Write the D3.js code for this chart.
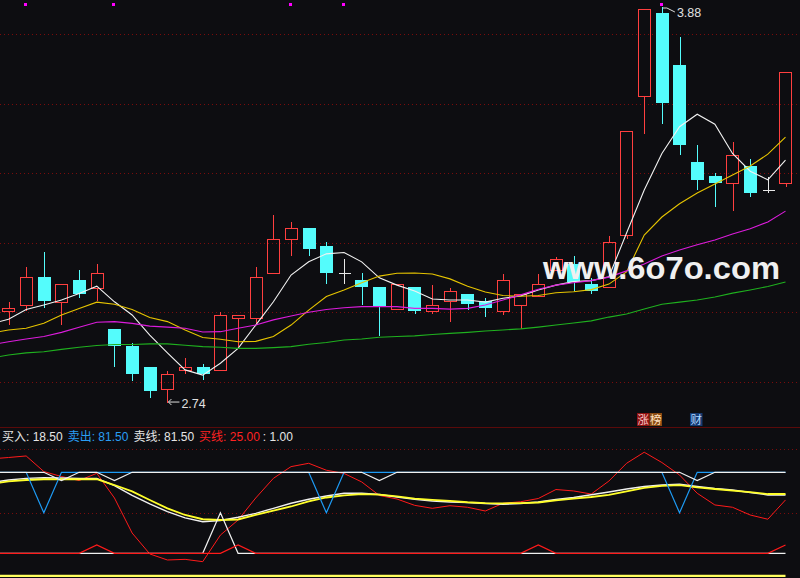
<!DOCTYPE html>
<html><head><meta charset="utf-8">
<script src="https://cdn.jsdelivr.net/npm/d3@7"></script>
<style>html,body{margin:0;padding:0;background:#0d0d11;} svg{display:block;}</style>
</head><body><svg id="c" width="800" height="578"></svg>
<script>
// ---------- main panel data (bars 1..45) ----------
const open  = [3.003,3.020,3.101,3.030,3.093,3.071,2.952,2.903,2.842,2.780,2.833,2.842,2.833,2.982,2.982,3.112,3.210,3.242,3.191,3.113,3.093,3.073,3.010,3.073,3.004,3.031,3.052,3.033,3.003,3.020,3.048,3.121,3.139,3.080,3.072,3.221,3.622,3.862,3.712,3.432,3.392,3.371,3.421,3.351,3.371];
const close = [3.011,3.101,3.032,3.081,3.052,3.113,2.903,2.823,2.773,2.821,2.841,2.823,2.991,2.991,3.101,3.210,3.242,3.183,3.114,3.113,3.073,3.015,3.081,3.004,3.020,3.061,3.023,3.013,3.093,3.052,3.081,3.152,3.087,3.062,3.201,3.521,3.872,3.603,3.481,3.381,3.373,3.452,3.344,3.351,3.691];
const high  = [3.029,3.129,3.172,3.081,3.122,3.139,2.952,2.911,2.842,2.831,2.867,2.851,3.001,2.991,3.130,3.280,3.260,3.242,3.202,3.153,3.113,3.073,3.081,3.073,3.078,3.069,3.052,3.041,3.111,3.052,3.111,3.160,3.162,3.098,3.219,3.521,3.872,3.880,3.792,3.481,3.401,3.490,3.441,3.390,3.691];
const low   = [2.963,3.004,3.013,2.963,3.042,3.032,2.843,2.803,2.754,2.740,2.823,2.806,2.833,2.896,2.963,3.112,3.163,3.163,3.082,3.082,3.022,2.932,3.010,2.994,2.994,2.973,3.006,2.985,2.993,2.952,3.048,3.121,3.062,3.052,3.072,3.210,3.514,3.542,3.453,3.352,3.304,3.292,3.333,3.344,3.361];
// moving averages, index 0 = bar before the visible window
const ma5  = [2.966,2.980,3.008,3.021,3.035,3.054,3.075,3.030,2.992,2.934,2.883,2.834,2.819,2.853,2.896,2.963,3.030,3.107,3.145,3.168,3.172,3.145,3.099,3.078,3.061,3.038,3.035,3.035,3.029,3.040,3.047,3.064,3.078,3.088,3.091,3.102,3.228,3.352,3.457,3.534,3.570,3.541,3.457,3.406,3.381,3.438];
const ma10 = [2.940,2.949,2.954,2.968,2.992,3.011,3.029,3.023,3.008,2.985,2.973,2.949,2.927,2.922,2.915,2.916,2.930,2.963,3.006,3.045,3.064,3.085,3.104,3.112,3.113,3.110,3.096,3.075,3.058,3.048,3.046,3.048,3.056,3.059,3.065,3.081,3.116,3.222,3.274,3.312,3.343,3.369,3.395,3.421,3.455,3.504];
const ma20 = [2.906,2.915,2.923,2.930,2.942,2.957,2.971,2.973,2.968,2.960,2.957,2.954,2.943,2.944,2.954,2.963,2.978,2.989,3.000,3.008,3.013,3.016,3.016,3.016,3.011,3.011,3.009,3.011,3.021,3.035,3.050,3.066,3.078,3.085,3.091,3.101,3.119,3.139,3.162,3.179,3.194,3.208,3.225,3.240,3.260,3.291];
const ma60 = [2.868,2.877,2.883,2.886,2.893,2.899,2.904,2.907,2.907,2.909,2.909,2.905,2.901,2.899,2.896,2.896,2.898,2.901,2.908,2.913,2.920,2.923,2.928,2.930,2.932,2.936,2.939,2.942,2.946,2.949,2.952,2.957,2.963,2.969,2.975,2.986,2.995,3.009,3.023,3.029,3.035,3.044,3.055,3.064,3.074,3.087];
const priceGrid = [2.8,3.0,3.2,3.4,3.6,3.8];
const markerBars = [2,7,17,20,38];

// ---------- indicator panel data (index 0..45) ----------
const osc    = [91.9,93.0,94.2,82.1,78.2,75.1,80.7,61.5,34.3,18.0,13.3,13.8,12.0,32.7,44.4,61.5,76.8,85.9,88.5,83.1,80.6,74.0,63.5,60.7,55.8,53.5,55.5,54.3,51.4,57.4,58.6,61.1,68.1,67.0,64.6,74.7,88.5,97.1,89.1,79.4,65.2,56.1,54.3,48.3,45.0,60.0];
const smoothW = [73.6,75.5,76.8,77.3,77.1,76.8,76.8,71.1,63.5,56.9,50.9,46.0,43.1,44.0,46.5,49.6,53.5,57.4,60.5,63.1,65.2,65.2,64.2,62.3,60.4,59.2,58.4,57.9,57.2,56.6,57.2,58.4,60.4,61.9,64.0,66.2,68.5,70.5,71.6,72.3,70.5,68.9,67.7,65.8,63.9,63.9];
const smoothY = [72.4,74.4,75.5,76.1,76.1,76.1,76.1,71.6,66.6,60.0,53.5,48.3,45.0,44.4,44.8,48.3,51.6,54.9,58.8,61.9,63.6,64.5,64.2,62.7,61.1,60.0,59.2,58.2,57.6,57.4,57.6,58.0,59.6,61.1,62.3,63.9,66.6,69.3,70.9,71.5,69.8,68.5,67.2,66.0,64.6,64.6];
const buyIn   = [18.5,18.5,18.5,18.5,18.5,18.5,18.5,18.5,18.5,18.5,18.5,18.5,18.5,50,18.5,18.5,18.5,18.5,18.5,18.5,18.5,18.5,18.5,18.5,18.5,18.5,18.5,18.5,18.5,18.5,18.5,18.5,18.5,18.5,18.5,18.5,18.5,18.5,18.5,18.5,18.5,18.5,18.5,18.5,18.5,18.5];
const sellOut = [81.5,81.5,81.5,50,81.5,81.5,81.5,81.5,81.5,81.5,81.5,81.5,81.5,81.5,81.5,81.5,81.5,81.5,81.5,50,81.5,81.5,81.5,81.5,81.5,81.5,81.5,81.5,81.5,81.5,81.5,81.5,81.5,81.5,81.5,81.5,81.5,81.5,81.5,50,81.5,81.5,81.5,81.5,81.5,81.5];
const sellLine= [81.5,81.5,81.5,81.5,75,81.5,81.5,75,81.5,81.5,81.5,81.5,81.5,81.5,81.5,81.5,81.5,81.5,81.5,81.5,81.5,81.5,75,81.5,81.5,81.5,81.5,81.5,81.5,81.5,81.5,81.5,81.5,81.5,81.5,81.5,81.5,81.5,81.5,81.5,75,81.5,81.5,81.5,81.5,81.5];
const buyLine = [18.5,18.5,18.5,18.5,18.5,18.5,25,18.5,18.5,18.5,18.5,18.5,18.5,18.5,25,18.5,18.5,18.5,18.5,18.5,18.5,18.5,18.5,18.5,18.5,18.5,18.5,18.5,18.5,18.5,18.5,25,18.5,18.5,18.5,18.5,18.5,18.5,18.5,18.5,18.5,18.5,18.5,18.5,18.5,25];
const unitLine= [1,1,1,1,1,1,1,1,1,1,1,1,1,1,1,1,1,1,1,1,1,1,1,1,1,1,1,1,1,1,1,1,1,1,1,1,1,1,1,1,1,1,1,1,1,1];
const indGrid = [50,100];
const legendNames  = ["买入","卖出","卖线","买线",""];
const legendValues = [18.50,81.50,81.50,25.00,1.00];
const legendColors = ["#e6e6e6","#2a9df4","#e6e6e6","#ff2222","#e6e6e6"];
const tagLabels = [{t:"涨",bar:36.93,bg:"#8e1212",fg:"#ffc8c8"},{t:"榜",bar:37.64,bg:"#8a4a12",fg:"#ffe0c0"},{t:"财",bar:39.93,bg:"#163a72",fg:"#b0d8ff"}];

// ---------- drawing ----------
const svg = d3.select("#c");
svg.append("rect").attr("width",800).attr("height",578).attr("fill","#0d0d11");
const defs = svg.append("defs");
defs.append("clipPath").attr("id","cm").append("rect").attr("x",0).attr("y",0).attr("width",800).attr("height",426);
defs.append("clipPath").attr("id","ci").append("rect").attr("x",0).attr("y",446).attr("width",800).attr("height",132);

const x = d3.scaleLinear().domain([1,45]).range([8.5,785.5]);
const y = d3.scaleLinear().domain([2.8,3.8]).range([381.7,34.3]);
const yi = d3.scaleLinear().domain([0,100]).range([577.1,448.5]);
const bars = close.map((_, i) => i + 1);
const half = 6.2;

const main = svg.append("g").attr("clip-path","url(#cm)");
main.selectAll("line.g").data(priceGrid).join("line")
  .attr("x1",0).attr("x2",800).attr("y1",d=>Math.round(y(d))+0.5).attr("y2",d=>Math.round(y(d))+0.5)
  .attr("stroke","#7a0c0c").attr("stroke-dasharray","1,3");

const RED="#ff3f3f", CYAN="#54fcfc", DOJI="#e8e8e8";
const cg = main.append("g").attr("shape-rendering","crispEdges");
bars.forEach((b,i)=>{
  const o=open[i], c=close[i], h=high[i], l=low[i];
  const cx = Math.round(x(b))+0.5;
  const xl = Math.round(x(b)-half)+0.5, w = Math.round(2*half);
  if (c>o) {
    const yt=Math.round(y(c))+0.5, yb=Math.round(y(o))+0.5;
    cg.append("line").attr("x1",cx).attr("x2",cx).attr("y1",y(h)).attr("y2",yt).attr("stroke",RED);
    cg.append("line").attr("x1",cx).attr("x2",cx).attr("y1",yb).attr("y2",y(l)).attr("stroke",RED);
    cg.append("rect").attr("x",xl).attr("y",yt).attr("width",w).attr("height",Math.max(1,yb-yt)).attr("fill","none").attr("stroke",RED).attr("stroke-width",1.2);
  } else if (c<o) {
    cg.append("line").attr("x1",cx).attr("x2",cx).attr("y1",y(h)).attr("y2",y(l)).attr("stroke",CYAN);
    cg.append("rect").attr("x",xl-0.5).attr("y",y(o)).attr("width",w+1).attr("height",Math.max(1,y(c)-y(o))).attr("fill",CYAN);
  } else {
    cg.append("line").attr("x1",cx).attr("x2",cx).attr("y1",y(h)).attr("y2",y(l)).attr("stroke",DOJI);
    cg.append("line").attr("x1",xl).attr("x2",xl+w).attr("y1",Math.round(y(o))+0.5).attr("y2",Math.round(y(o))+0.5).attr("stroke",DOJI);
  }
});

const lineMain = arr => d3.line().x((d,i)=>x(i)).y(d=>y(d))(arr);
[[ma5,"#f2f2f2"],[ma10,"#e6c400"],[ma20,"#dc1cdc"],[ma60,"#1fb01f"]].forEach(([arr,col])=>{
  main.append("path").attr("d",lineMain(arr)).attr("fill","none").attr("stroke",col).attr("stroke-width",1.1);
});

// markers on top
main.selectAll("rect.mk").data(markerBars).join("rect")
  .attr("x",d=>Math.round(x(d))-2).attr("y",3).attr("width",3).attr("height",3).attr("fill","#ff00ff");

// max / min annotations
const iMax = d3.maxIndex(high), iMin = d3.minIndex(low);
const mx = x(iMax+1), my = y(high[iMax]);
main.append("path").attr("d",`M${mx+1},${my+1.5} h4 l8,4`).attr("fill","none").attr("stroke","#dddddd").attr("stroke-width",1);
main.append("text").attr("x",mx+15).attr("y",my+10.5).attr("fill","#e0e0e0")
  .attr("font-family","Liberation Sans, Arial, sans-serif").attr("font-size",12.5).text(d3.format(".2f")(high[iMax]));
const nx = x(iMin+1), ny = y(low[iMin]);
main.append("path").attr("d",`M${nx+1},${ny-0.5} h11 M${nx+1},${ny-0.5} l3,-3 M${nx+1},${ny-0.5} l3,3`).attr("fill","none").attr("stroke","#dddddd").attr("stroke-width",1);
main.append("text").attr("x",nx+14).attr("y",ny+5.5).attr("fill","#e0e0e0")
  .attr("font-family","Liberation Sans, Arial, sans-serif").attr("font-size",12.5).text(d3.format(".2f")(low[iMin]));

// watermark
main.append("text").attr("x",543).attr("y",279).attr("fill","#f0f0f0")
  .attr("font-family","Liberation Sans, Arial, sans-serif").attr("font-weight","bold").attr("font-size",32)
  .attr("textLength",237).attr("lengthAdjust","spacingAndGlyphs").text("www.6o7o.com");

// tags
tagLabels.forEach(t=>{
  const tx = x(t.bar)-6;
  svg.append("rect").attr("x",tx).attr("y",413).attr("width",12.5).attr("height",13).attr("fill",t.bg);
  svg.append("text").attr("x",tx+0.5).attr("y",424).attr("fill",t.fg).attr("font-size",11.5)
    .attr("font-family","Noto Sans CJK SC, sans-serif").text(t.t);
});

// separator
svg.append("line").attr("x1",0).attr("x2",800).attr("y1",427.5).attr("y2",427.5).attr("stroke","#5a0a0a");

// legend
const lg = svg.append("text").attr("x",2).attr("y",441).attr("font-size",12)
  .attr("font-family","Liberation Sans, Noto Sans CJK SC, sans-serif");
legendNames.forEach((n,i)=>{
  lg.append("tspan").attr("fill",legendColors[i]).attr("dx",i?(i===4?3:5):0)
    .text(n+": "+legendValues[i].toFixed(2));
});

// indicator panel
const ind = svg.append("g").attr("clip-path","url(#ci)");
ind.selectAll("line.g").data(indGrid).join("line")
  .attr("x1",0).attr("x2",800).attr("y1",d=>Math.round(yi(d))+0.5).attr("y2",d=>Math.round(yi(d))+0.5)
  .attr("stroke","#7a0c0c").attr("stroke-dasharray","1,3");
const lineInd = arr => d3.line().x((d,i)=>x(i)).y(d=>yi(d))(arr);
[[osc,"#ff1a1a",1],[smoothW,"#f0f0f0",1.4],[smoothY,"#ffff2a",1.8],
 [buyIn,"#f0f0f0",1.2],[sellOut,"#1e9bf5",1.2],[sellLine,"#f0f0f0",1.2],[buyLine,"#ff1a1a",1.2],[unitLine,"#ffff60",2.2]]
 .forEach(([arr,col,sw])=>{
  ind.append("path").attr("d",lineInd(arr)).attr("fill","none").attr("stroke",col).attr("stroke-width",sw);
});
</script></body></html>
